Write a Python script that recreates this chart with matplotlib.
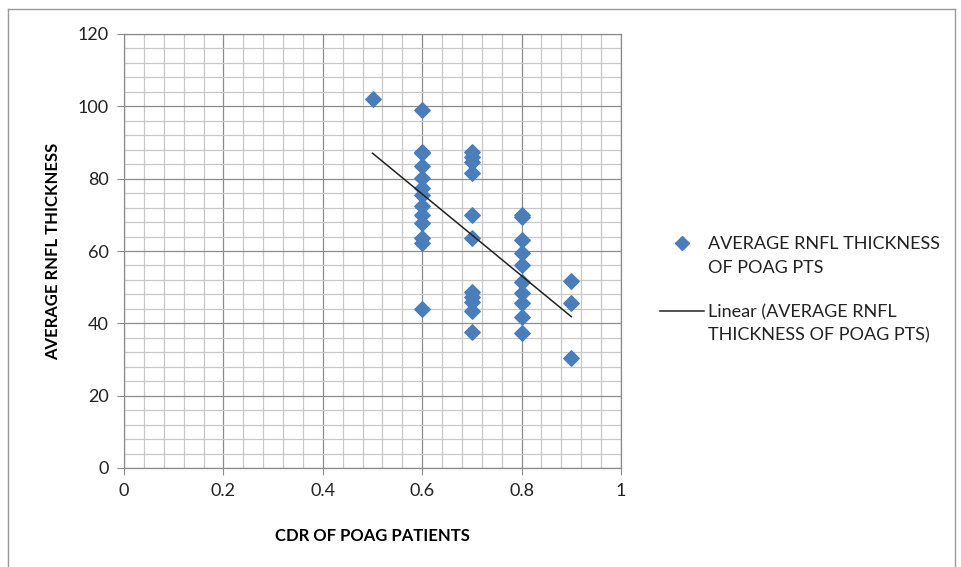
import matplotlib
matplotlib.use('Agg')
import matplotlib.pyplot as plt
import numpy as np
from matplotlib.lines import Line2D
from matplotlib.ticker import MultipleLocator

plt.rcParams['font.family'] = ['Lato', 'DejaVu Sans']

# CDR values and average RNFL thickness for each POAG patient
cdr = [0.5,
       0.6, 0.6, 0.6, 0.6, 0.6, 0.6, 0.6, 0.6, 0.6, 0.6, 0.6, 0.6, 0.6,
       0.7, 0.7, 0.7, 0.7, 0.7, 0.7, 0.7, 0.7, 0.7, 0.7, 0.7,
       0.8, 0.8, 0.8, 0.8, 0.8, 0.8, 0.8, 0.8, 0.8, 0.8,
       0.9, 0.9, 0.9]
rnfl = [102,
        99, 87.5, 87, 83.5, 80.3, 77.3, 75.5, 72.4, 69.9, 67.8, 63.5, 62.1, 43.9,
        87.5, 86.1, 84.7, 81.5, 70, 63.5, 48.8, 47.2, 45.8, 43.5, 37.5,
        69.9, 69.5, 63, 59.4, 56.1, 51.5, 48.3, 45.5, 41.8, 37.2,
        51.8, 45.5, 30.3]

series_label = 'AVERAGE RNFL THICKNESS\nOF POAG PTS'
trend_label = 'Linear (AVERAGE RNFL\nTHICKNESS OF POAG PTS)'

fig = plt.figure(figsize=(9.61, 5.67), dpi=100)
ax = fig.add_axes([124 / 961, 1 - 468 / 567, (621 - 124) / 961, (468 - 34) / 567])

ax.set_xlim(0, 1)
ax.set_ylim(0, 120)
ax.xaxis.set_major_locator(MultipleLocator(0.2))
ax.xaxis.set_minor_locator(MultipleLocator(0.04))
ax.yaxis.set_major_locator(MultipleLocator(20))
ax.yaxis.set_minor_locator(MultipleLocator(4))
ax.set_xticks([0, 0.2, 0.4, 0.6, 0.8, 1])
ax.set_xticklabels(['0', '0.2', '0.4', '0.6', '0.8', '1'])
ax.grid(which='major', color='#8c8c8c', linewidth=0.9)
ax.grid(which='minor', color='#c8c8c8', linewidth=0.9)
ax.set_axisbelow(True)
for s in ax.spines.values():
    s.set_color('#8c8c8c')
    s.set_linewidth(0.9)
ax.tick_params(which='major', direction='out', length=5, color='#8c8c8c',
               labelsize=13, labelcolor='#222222', pad=6)
ax.tick_params(which='minor', length=0)

ax.scatter(cdr, rnfl, marker='D', s=62, color='#4a7ebb', zorder=3)

# linear trendline
x = np.array(cdr)
k, b = np.polyfit(x, np.array(rnfl), 1)
xs = np.array([x.min(), x.max()])
ax.plot(xs, k * xs + b, color='#222222', linewidth=1.1, zorder=4)

ax.set_xlabel('CDR OF POAG PATIENTS', fontsize=12, fontweight='bold', labelpad=21)
ax.set_ylabel('AVERAGE RNFL THICKNESS', fontsize=12, fontweight='bold', labelpad=12)

# legend drawn by hand
fig.add_artist(Line2D([682 / 961], [1 - 243 / 567], marker='D', markersize=7,
                      color='#4a7ebb', linestyle='none'))
fig.text(708 / 961, 1 - 256 / 567, series_label, fontsize=13, color='#222222',
         va='center', linespacing=1.55)
fig.add_artist(Line2D([660 / 961, 704 / 961], [1 - 311 / 567, 1 - 311 / 567],
                      color='#222222', linewidth=1.1))
fig.text(708 / 961, 1 - 324 / 567, trend_label, fontsize=13, color='#222222',
         va='center', linespacing=1.55)

# outer frame
for xx, yy in [([8, 8], [9, 567]), ([8, 955], [9, 9]), ([955, 955], [9, 567])]:
    fig.add_artist(Line2D([v / 961 for v in xx], [1 - v / 567 for v in yy],
                          color='#9a9a9a', linewidth=1))

fig.savefig('out.png', dpi=100)
